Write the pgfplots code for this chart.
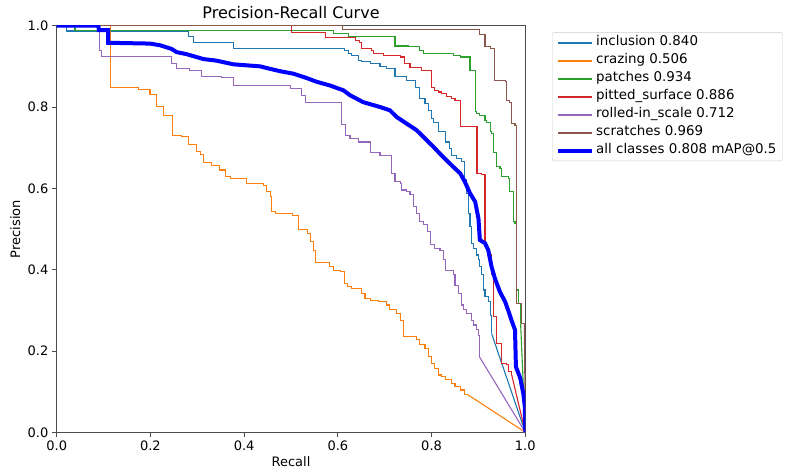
\documentclass[border=0pt]{standalone}
\usepackage{fontspec}
\setmainfont{DejaVu Sans}
\usepackage{pgfplots}
\pgfplotsset{compat=1.18}
\definecolor{cIncl}{HTML}{1F77B4}
\definecolor{cCraz}{HTML}{FF7F0E}
\definecolor{cPatch}{HTML}{2CA02C}
\definecolor{cPit}{HTML}{D62728}
\definecolor{cRoll}{HTML}{9467BD}
\definecolor{cScr}{HTML}{8C564B}
\definecolor{cAll}{RGB}{0,0,255}

\begin{document}
\begin{tikzpicture}
\useasboundingbox (-56.7pt,-41.7pt) rectangle (740.3pt,432.3pt);
\begin{axis}[
    scale only axis, width=468.6pt, height=406.6pt,
    xmin=0, xmax=1, ymin=0, ymax=1,
    xtick={0,0.2,0.4,0.6,0.8,1}, ytick={0,0.2,0.4,0.6,0.8,1},
    xticklabels={0.0,0.2,0.4,0.6,0.8,1.0},
    yticklabels={0.0,0.2,0.4,0.6,0.8,1.0},
    tick align=outside, xtick pos=bottom, ytick pos=left,
    major tick length=4.8pt,
    tick style={black!70, line width=0.8pt},
    axis line style={black!70, line width=0.9pt},
    tick label style={font=\fontsize{13}{15}\selectfont},
    every axis title shift=0pt,
    title={Precision-Recall Curve},
    title style={font=\fontsize{16}{18}\selectfont, at={(axis description cs:0.5,1.0165)}, anchor=base},
    xlabel={Recall}, ylabel={Precision},
    label style={font=\fontsize{13}{15}\selectfont},
    xlabel style={at={(axis description cs:0.5,-0.0829)}, anchor=base},
    ylabel style={at={(axis description cs:-0.0783,0.5)}, anchor=base},
    legend style={at={(axis description cs:1.057,0.984)}, anchor=north west,
      draw=black!20, rounded corners=2pt, font=\fontsize{13.4}{15}\selectfont,
      row sep=3.5pt, inner xsep=4pt, inner ysep=3pt,
      nodes={text height=9.5pt, text depth=3pt, inner ysep=1pt}},
    legend cell align=left,
    legend image code/.code={\path (0pt,0pt) -- (34pt,0pt); \draw[#1] (0pt,0pt) -- (28pt,0pt);},
    every axis plot/.append style={line width=1.1pt, legend image post style={line width=2pt}},
]
% inclusion
\addplot[cIncl, const plot] coordinates {(0,1) (0.021,0.987) (0.281,0.973) (0.292,0.958) (0.377,0.945) (0.590,0.943) (0.615,0.939) (0.622,0.931) (0.630,0.927) (0.644,0.915) (0.651,0.911) (0.669,0.907) (0.690,0.900) (0.704,0.894) (0.722,0.876) (0.747,0.866) (0.765,0.849) (0.775,0.820) (0.786,0.808) (0.793,0.792) (0.800,0.771) (0.804,0.763) (0.814,0.739) (0.829,0.714) (0.839,0.697) (0.843,0.681) (0.854,0.673) (0.864,0.665) (0.871,0.621) (0.875,0.588) (0.878,0.539) (0.882,0.506) (0.886,0.465) (0.889,0.453) (0.896,0.436) (0.900,0.424) (0.903,0.407) (0.907,0.387) (0.910,0.350) (0.914,0.334) (0.921,0.321) (0.925,0.288) (0.928,0.243)};
\addlegendentry{inclusion 0.840}
\addplot[cIncl, forget plot] coordinates {(0.928,0.243) (1,0)};
% crazing
\addplot[cCraz, const plot] coordinates {(0,1) (0.114,0.849) (0.174,0.844) (0.199,0.830) (0.213,0.801) (0.227,0.780) (0.247,0.731) (0.267,0.727) (0.282,0.707) (0.299,0.690) (0.306,0.684) (0.314,0.663) (0.331,0.657) (0.348,0.645) (0.361,0.629) (0.370,0.625) (0.405,0.612) (0.441,0.608) (0.448,0.592) (0.457,0.579) (0.459,0.543) (0.466,0.539) (0.504,0.534) (0.516,0.498) (0.535,0.489) (0.541,0.469) (0.548,0.448) (0.552,0.417) (0.583,0.407) (0.590,0.399) (0.605,0.395) (0.615,0.367) (0.620,0.358) (0.630,0.354) (0.651,0.342) (0.658,0.330) (0.669,0.325) (0.686,0.321) (0.704,0.313) (0.711,0.303) (0.726,0.293) (0.733,0.276) (0.740,0.235) (0.768,0.229) (0.775,0.215) (0.786,0.207) (0.793,0.186) (0.800,0.170) (0.807,0.157) (0.814,0.141) (0.822,0.137) (0.829,0.129) (0.843,0.121) (0.850,0.112) (0.861,0.104) (0.871,0.092) (0.878,0.092)};
\addlegendentry{crazing 0.506}
\addplot[cCraz, forget plot] coordinates {(0.878,0.092) (1,0)};
% patches
\addplot[cPatch, const plot] coordinates {(0,1) (0.039,0.989) (0.590,0.980) (0.622,0.973) (0.722,0.950) (0.750,0.948) (0.775,0.940) (0.782,0.931) (0.846,0.927) (0.861,0.923) (0.882,0.890) (0.893,0.788) (0.896,0.784) (0.903,0.780) (0.914,0.767) (0.918,0.763) (0.925,0.739) (0.928,0.734) (0.932,0.689) (0.939,0.653) (0.946,0.649) (0.950,0.629) (0.964,0.625) (0.967,0.592) (0.974,0.518) (0.978,0.514) (0.982,0.350) (0.985,0.317) (0.990,0.268)};
\addlegendentry{patches 0.934}
\addplot[cPatch, forget plot] coordinates {(0.990,0.268) (1,0)};
% pitted_surface
\addplot[cPit, const plot] coordinates {(0,1) (0.501,0.983) (0.573,0.971) (0.637,0.964) (0.647,0.958) (0.651,0.943) (0.672,0.940) (0.676,0.931) (0.697,0.927) (0.733,0.923) (0.743,0.908) (0.754,0.898) (0.779,0.890) (0.800,0.848) (0.807,0.841) (0.814,0.837) (0.822,0.833) (0.832,0.825) (0.843,0.820) (0.850,0.817) (0.861,0.752) (0.897,0.637) (0.906,0.633) (0.914,0.461) (0.919,0.436) (0.927,0.387) (0.932,0.284) (0.939,0.219) (0.950,0.170) (0.960,0.166) (0.964,0.149) (0.971,0.141)};
\addlegendentry{pitted\_surface 0.886}
\addplot[cPit, forget plot] coordinates {(0.971,0.141) (1,0)};
% rolled-in_scale
\addplot[cRoll, const plot] coordinates {(0,1) (0.091,0.940) (0.096,0.925) (0.245,0.908) (0.256,0.895) (0.284,0.889) (0.309,0.876) (0.352,0.873) (0.377,0.852) (0.498,0.845) (0.523,0.829) (0.530,0.812) (0.608,0.756) (0.617,0.731) (0.626,0.722) (0.644,0.714) (0.669,0.689) (0.690,0.681) (0.715,0.637) (0.722,0.616) (0.733,0.612) (0.736,0.596) (0.747,0.592) (0.754,0.584) (0.761,0.555) (0.768,0.539) (0.775,0.518) (0.782,0.510) (0.792,0.493) (0.797,0.461) (0.807,0.453) (0.818,0.448) (0.825,0.424) (0.829,0.399) (0.846,0.387) (0.850,0.362) (0.857,0.342) (0.864,0.313) (0.868,0.301) (0.875,0.293) (0.886,0.276) (0.889,0.264) (0.896,0.252) (0.900,0.239) (0.902,0.186)};
\addlegendentry{rolled-in\_scale 0.712}
\addplot[cRoll, forget plot] coordinates {(0.902,0.186) (1,0)};
% scratches
\addplot[cScr, const plot] coordinates {(0,1) (0.610,0.991) (0.903,0.979) (0.914,0.948) (0.925,0.943) (0.935,0.866) (0.957,0.862) (0.960,0.817) (0.967,0.812) (0.971,0.759) (0.978,0.755) (0.981,0.317) (0.992,0.268) (0.998,0.268)};
\addlegendentry{scratches 0.969}
\addplot[cScr, forget plot] coordinates {(0.998,0.268) (1,0)};
% all classes
\addplot[cAll, line width=4pt, legend image post style={line width=4pt}] coordinates {(0,1) (0.089,1) (0.090,0.989) (0.110,0.989) (0.110,0.958) (0.199,0.956) (0.220,0.952) (0.245,0.943) (0.256,0.935) (0.277,0.930) (0.313,0.918) (0.341,0.914) (0.377,0.905) (0.434,0.900) (0.455,0.894) (0.477,0.888) (0.505,0.882) (0.534,0.871) (0.555,0.862) (0.583,0.853) (0.612,0.841) (0.626,0.829) (0.654,0.812) (0.690,0.800) (0.711,0.792) (0.726,0.775) (0.747,0.759) (0.768,0.743) (0.790,0.718) (0.804,0.702) (0.818,0.685) (0.832,0.669) (0.846,0.653) (0.861,0.637) (0.871,0.616) (0.882,0.588) (0.893,0.567) (0.900,0.526) (0.903,0.473) (0.914,0.465) (0.921,0.448) (0.928,0.407) (0.935,0.379) (0.946,0.345) (0.957,0.321) (0.964,0.298) (0.971,0.274) (0.978,0.252) (0.980,0.161) (0.989,0.134) (0.996,0.094) (0.999,0.062) (1,0)};
\addlegendentry{all classes 0.808 mAP@0.5}
\end{axis}
\end{tikzpicture}
\end{document}
